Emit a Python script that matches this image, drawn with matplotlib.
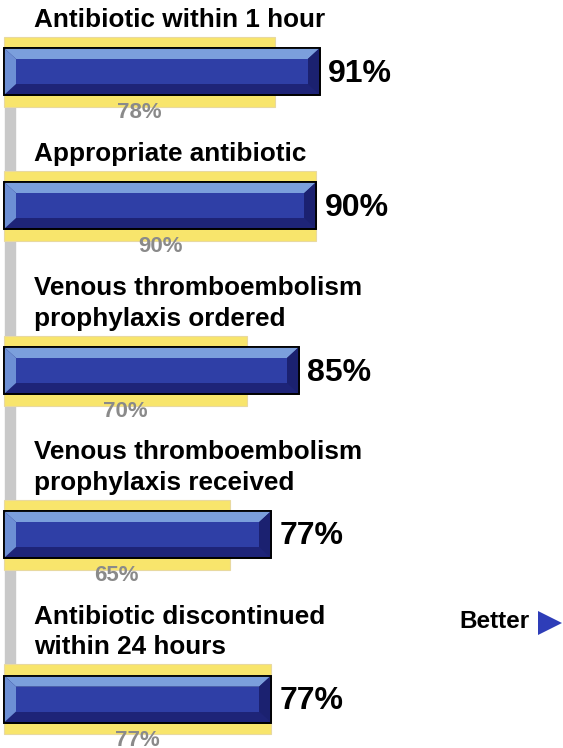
import matplotlib.pyplot as plt
from matplotlib.patches import Polygon, Rectangle

# measures and rates
titles = ['Antibiotic within 1 hour',
          'Appropriate antibiotic',
          'Venous thromboembolism\nprophylaxis ordered',
          'Venous thromboembolism\nprophylaxis received',
          'Antibiotic discontinued\nwithin 24 hours']
current = [91, 90, 85, 77, 77]
baseline = [78, 90, 70, 65, 77]

# layout (pixel rows, image is 748 tall)
centers = [71.5, 205.5, 370.5, 534.5, 699]
px_per_pct = 3.47
x0 = 4

fig = plt.figure(figsize=(5.63, 7.48), dpi=100)
ax = fig.add_axes([0, 0, 1, 1])
ax.set_xlim(-x0 / px_per_pct, (563 - x0) / px_per_pct)
ax.set_ylim(748, 0)
ax.axis('off')

font = 'Liberation Sans'
bh = 47    # blue bar height
yh = 70    # yellow bar height
dx = 12 / px_per_pct
dt, db = 11, 11

# grey spine behind bars
ax.add_patch(Rectangle((0.3, centers[0] + yh / 2), 2.9, centers[-1] - centers[0] - yh,
                       color='#c9c9c9', zorder=0))

for t, c, b, yc in zip(titles, current, baseline, centers):
    ax.barh(yc, b, height=yh, left=0, color='#f8e56c', edgecolor='#e8d9a0',
            linewidth=0.8, zorder=1)
    ax.barh(yc, c, height=bh, left=0, color='#1e2478', edgecolor='black',
            linewidth=1.2, zorder=2)
    top, bot = yc - bh / 2, yc + bh / 2
    # bevels
    ax.add_patch(Polygon([(0, top), (c, top), (c - dx, top + dt), (dx, top + dt)],
                         closed=True, color='#7b9fdc', zorder=3, lw=0))
    ax.add_patch(Polygon([(0, top), (dx, top + dt), (dx, bot - db), (0, bot)],
                         closed=True, color='#6d8fd4', zorder=3, lw=0))
    ax.add_patch(Polygon([(c, top), (c, bot), (c - dx, bot - db), (c - dx, top + dt)],
                         closed=True, color='#1b2170', zorder=3, lw=0))
    ax.add_patch(Rectangle((dx, top + dt), c - 2 * dx, bh - dt - db,
                           color='#2f3fa6', zorder=3, lw=0))
    ax.barh(yc, c, height=bh, left=0, color='none', edgecolor='black',
            linewidth=1.3, zorder=4)

    ax.text(c + 2.4, yc + 2, f'{c}%', fontsize=23, fontweight='bold',
            family=font, va='center', ha='left', color='black')
    ax.text(b / 2, yc + yh / 2 + 6, f'{b}%', fontsize=16, fontweight='bold',
            family=font, va='center', ha='center', color='#8a8a8a')
    ax.text(30 / px_per_pct, yc - yh / 2 - 5, t, fontsize=18.8, fontweight='bold',
            family=font, va='bottom', ha='left', color='black',
            linespacing=1.32)

ax.text(455 / px_per_pct, 622, 'Better', fontsize=17.5, fontweight='bold',
        family=font, va='center', ha='left', color='black')
ax.add_patch(Polygon([((538 - x0) / px_per_pct, 611), ((538 - x0) / px_per_pct, 635),
                      ((562 - x0) / px_per_pct, 623)],
                     closed=True, color='#2e3db8', lw=0))

fig.savefig('out.png', dpi=100)
